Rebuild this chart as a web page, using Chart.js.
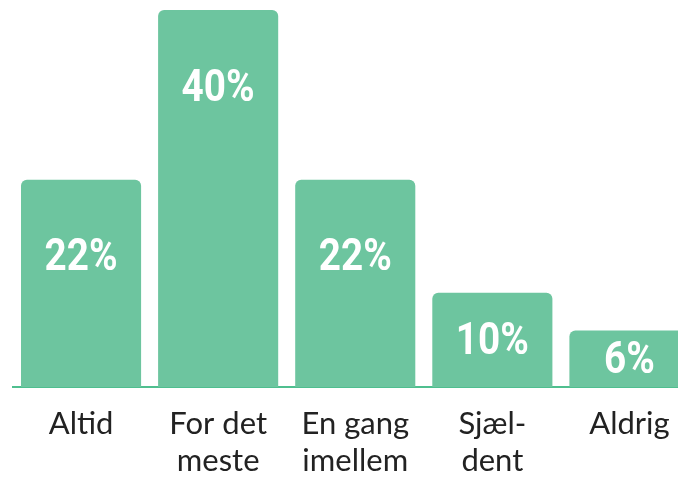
<!DOCTYPE html>
<html>
<head>
<meta charset="utf-8">
<script src="https://cdn.jsdelivr.net/npm/chart.js@4"></script>
<style>
html,body{margin:0;padding:0;overflow:hidden;background:#fff;width:678px;height:479px;}
#wrap{width:698px;height:498px;position:relative;}
</style>
</head>
<body>
<div id="wrap"><canvas id="c"></canvas></div>
<script>
const categories = [["Altid"], ["For det", "meste"], ["En gang", "imellem"], ["Sjæl-", "dent"], ["Aldrig"]];
const values = [22, 40, 22, 10, 6];
const valueLabels = ["22%", "40%", "22%", "10%", "6%"];

const barColor = '#6dc59f';
const axisColor = '#4fbf8f';

const labelPlugin = {
  id: 'insideLabels',
  afterDatasetsDraw(chart) {
    const ctx = chart.ctx;
    const meta = chart.getDatasetMeta(0);
    ctx.save();
    ctx.fillStyle = '#ffffff';
    ctx.font = 'bold 44px Roboto';
    ctx.textAlign = 'center';
    ctx.textBaseline = 'alphabetic';
    const cap = 44 * 0.711;
    meta.data.forEach((bar, i) => {
      const h = bar.base - bar.y;
      const cy = bar.y + Math.min(75, h / 2 - 1);
      ctx.save();
      ctx.translate(bar.x, cy + cap / 2);
      ctx.scale(0.88, 1);
      ctx.fillText(valueLabels[i], 0, 0);
      ctx.restore();
    });
    ctx.restore();
  }
};

new Chart(document.getElementById('c'), {
  type: 'bar',
  data: {
    labels: categories,
    datasets: [{
      data: values,
      backgroundColor: barColor,
      borderWidth: 0,
      borderRadius: {topLeft: 6, topRight: 6, bottomLeft: 0, bottomRight: 0},
      borderSkipped: 'bottom',
      categoryPercentage: 1,
      barPercentage: 0.876
    }]
  },
  options: {
    responsive: true,
    maintainAspectRatio: false,
    animation: false,
    layout: {padding: {left: 12.5, right: 0, top: 10, bottom: 0}},
    plugins: {legend: {display: false}, tooltip: {enabled: false}},
    scales: {
      y: {display: false, min: 0, max: 40},
      x: {
        grid: {display: false, drawTicks: false},
        border: {display: true, color: axisColor, width: 2},
        ticks: {
          color: '#222222',
          padding: 18,
          maxRotation: 0,
          autoSkip: false,
          font: {family: 'Lato', size: 31, lineHeight: 1.21}
        }
      }
    }
  },
  plugins: [labelPlugin]
});
</script>
</body>
</html>
